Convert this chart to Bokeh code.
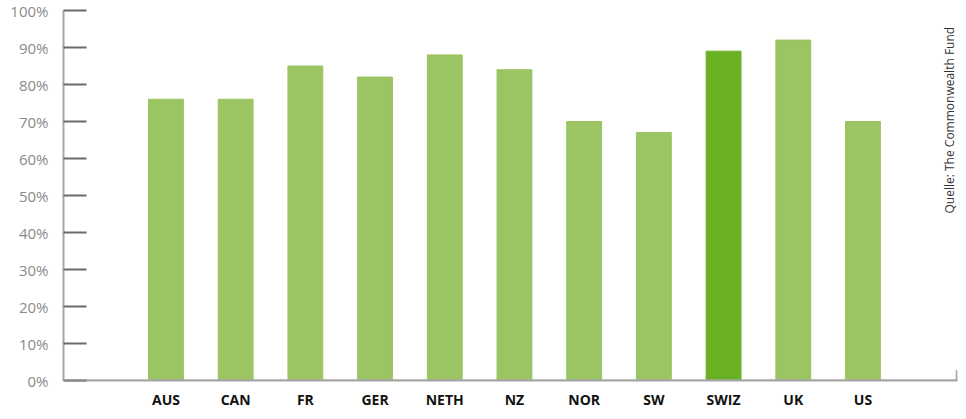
from bokeh.plotting import figure
from bokeh.models import Range1d, FixedTicker, PrintfTickFormatter, Label, ColumnDataSource, Span
from bokeh.embed import file_html
from bokeh.resources import INLINE

countries = ["AUS", "CAN", "FR", "GER", "NETH", "NZ", "NOR", "SW", "SWIZ", "UK", "US"]
values = [76, 76, 85, 82, 88, 84, 70, 67, 89, 92, 70]
highlight = "SWIZ"
y_ticks = [0, 10, 20, 30, 40, 50, 60, 70, 80, 90, 100]
source_note = "Quelle: The Commonwealth Fund"

LIGHT = "#9bc462"
DARK = "#6ab023"
AXIS = "#a6a6a6"

xs = list(range(len(countries)))
colors = [DARK if c == highlight else LIGHT for c in countries]
src = ColumnDataSource(dict(x=xs, top=values, color=colors, name=countries))

x_lo, x_hi = -1.47, len(countries) - 1 + 1.356

p = figure(width=958, height=411, output_backend="svg", toolbar_location=None,
           x_range=Range1d(x_lo, x_hi), y_range=Range1d(0, 100),
           min_border_left=63, min_border_right=1, min_border_top=10, min_border_bottom=30)
p.outline_line_color = None
p.xgrid.grid_line_color = None
p.ygrid.grid_line_color = None
p.background_fill_color = "white"
p.border_fill_color = "white"

p.vbar(x="x", top="top", width=0.5, bottom=0, color="color", source=src)

# y axis
ya = p.yaxis[0]
ya.ticker = FixedTicker(ticks=y_ticks)
ya.formatter = PrintfTickFormatter(format="%d%%")
ya.axis_line_color = AXIS
ya.axis_line_width = 2
ya.major_tick_line_color = "#6b6b6b"
ya.major_tick_line_width = 2
ya.major_tick_in = 23
ya.major_tick_out = 0
ya.minor_tick_line_color = None
ya.major_label_standoff = 15
ya.major_label_text_font = "Open Sans"
ya.major_label_text_font_size = "15px"
ya.major_label_text_color = "#8a8a8a"
ya.major_label_text_baseline = "top"

# x axis
xa = p.xaxis[0]
xa.ticker = FixedTicker(ticks=xs)
xa.major_label_overrides = {i: c for i, c in zip(xs, countries)}
xa.axis_line_color = AXIS
xa.axis_line_width = 2
xa.major_tick_line_color = None
xa.major_tick_in = 0
xa.major_tick_out = 0
xa.minor_tick_line_color = None
xa.major_label_standoff = 9
xa.major_label_text_font = "Open Sans"
xa.major_label_text_font_size = "14px"
xa.major_label_text_font_style = "bold"
xa.major_label_text_color = "#111111"

# x axis line drawn over the y-axis tick at 0
p.add_layout(Span(location=0, dimension="width", line_color=AXIS, line_width=2))

# small tick at right end of x axis
p.segment(x0=[x_hi - 0.012], x1=[x_hi - 0.012], y0=[0], y1=[2.8], line_color=AXIS, line_width=2)

p.add_layout(Label(x=886, y=167, x_units="screen", y_units="screen", text=source_note,
                   angle=90, angle_units="deg", text_align="left", text_baseline="middle",
                   text_font="Open Sans", text_font_size="12px", text_color="#333333"))

open("out.html", "w").write(file_html(p, INLINE))
